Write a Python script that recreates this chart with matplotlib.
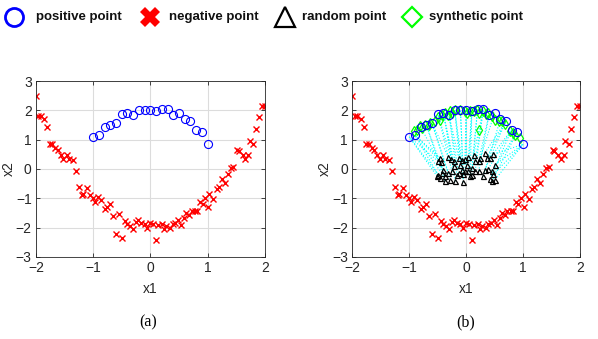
#!/usr/bin/env python3
"""Two-panel scatter: moon-shaped classes, (a) raw data, (b) with random and synthetic points."""

import matplotlib
matplotlib.use("Agg")
import matplotlib.pyplot as plt
from matplotlib.lines import Line2D

# positive class (blue circles)
pos_x = [-1.0, -0.9, -0.8, -0.7, -0.6, -0.5, -0.4, -0.3, -0.2, -0.1, 0.0,
         0.1, 0.2, 0.3, 0.4, 0.5, 0.6, 0.7, 0.8, 0.9, 1.0]
pos_y = [1.10, 1.16, 1.44, 1.50, 1.56, 1.89, 1.91, 1.83, 2.00, 2.00, 2.00,
         1.97, 2.03, 2.03, 1.84, 1.92, 1.69, 1.64, 1.34, 1.27, 0.84]

# negative class (red crosses)
neg_x = [-2.00, -1.96, -1.91, -1.85, -1.80, -1.75, -1.71, -1.66, -1.61, -1.57,
         -1.52, -1.46, -1.42, -1.36, -1.30, -1.25, -1.20, -1.17, -1.11, -1.06,
         -1.01, -0.96, -0.91, -0.87, -0.80, -0.75, -0.71, -0.65, -0.60, -0.55,
         -0.50, -0.45, -0.40, -0.35, -0.30, -0.25, -0.21, -0.16, -0.10, -0.06,
         0.00, 0.05, 0.10, 0.14, 0.20, 0.24, 0.28, 0.34, 0.39, 0.43,
         0.49, 0.54, 0.59, 0.63, 0.68, 0.72, 0.78, 0.82, 0.87, 0.91,
         0.96, 1.01, 1.03, 1.10, 1.16, 1.20, 1.25, 1.30, 1.35, 1.41,
         1.45, 1.52, 1.55, 1.61, 1.66, 1.71, 1.74, 1.80, 1.84, 1.89,
         1.95, 2.00]
neg_y = [2.49, 1.80, 1.80, 1.69, 1.44, 0.86, 0.86, 0.70, 0.66, 0.47,
         0.34, 0.47, 0.35, 0.30, -0.07, -0.61, -0.90, -0.84, -0.65, -0.90,
         -0.99, -1.13, -0.95, -1.07, -1.35, -1.30, -1.18, -1.61, -2.23, -1.52,
         -2.35, -1.77, -1.86, -1.95, -2.03, -1.81, -1.73, -1.84, -1.89, -2.00,
         -1.84, -1.86, -2.43, -1.92, -1.86, -2.03, -1.95, -2.00, -1.89, -1.84,
         -1.73, -1.91, -1.66, -1.50, -1.58, -1.43, -1.43, -1.43, -1.13, -1.18,
         -0.98, -1.30, -0.86, -1.01, -0.67, -0.61, -0.33, -0.48, -0.16, 0.02,
         0.07, 0.64, 0.61, 0.47, 0.34, 0.47, 0.95, 0.86, 1.38, 1.77,
         2.14, 2.14]

# random points (black triangles) and the positive point each one is joined to
rnd_x = [-0.46, -0.49, -0.44, -0.31, -0.26, -0.22, -0.13, -0.08, -0.02, 0.04,
         0.13, 0.16, 0.22, 0.25, 0.33, 0.36, 0.42, 0.48, 0.51, 0.33,
         0.39, 0.45, 0.48, 0.42, 0.30, 0.22, 0.10, 0.10, 0.04, -0.02,
         -0.08, -0.11, 0.01, -0.22, -0.25, -0.31, -0.40, -0.43, -0.49, -0.51,
         -0.46, -0.37, -0.28, -0.19, -0.05, 0.07, 0.51, 0.45, -0.37, -0.16,
         0.16, -0.05, -0.13]
rnd_y = [0.38, 0.26, 0.24, 0.40, 0.35, 0.28, 0.37, 0.32, 0.35, 0.40,
         0.47, 0.26, 0.28, 0.38, 0.55, 0.38, 0.38, 0.51, 0.15, -0.02,
         0.01, -0.08, -0.17, -0.33, -0.25, -0.08, -0.19, 0.03, -0.08, -0.06,
         -0.02, 0.15, 0.15, 0.09, -0.08, -0.14, -0.02, -0.14, -0.19, -0.25,
         -0.31, -0.42, -0.36, -0.42, -0.45, -0.25, -0.36, -0.42, -0.25, -0.22,
         -0.06, -0.17, -0.14]
rnd_target = [1, 0, 1, 4, 5, 6, 7, 8, 10, 11,
              13, 13, 14, 15, 17, 17, 18, 20, 20, 17,
              18, 19, 20, 18, 16, 14, 12, 12, 11, 10,
              8, 8, 10, 6, 5, 4, 2, 1, 0, 0,
              1, 3, 4, 6, 9, 11, 20, 19, 3, 7,
              13, 9, 7]

# synthetic points (green diamonds)
syn_x = [-0.92, -0.87, -0.81, -0.72, -0.63, -0.54, -0.49, -0.43, -0.37, -0.28,
         -0.19, -0.10, -0.02, 0.07, -0.46, -0.31, 0.13, 0.22, 0.30, 0.39,
         0.45, 0.51, 0.57, 0.23, 0.77, 0.86, 0.95, 0.63, 0.19, -0.78,
         -0.66, -0.24, 0.02, 0.35, 0.68, 0.82]
syn_y = [1.28, 1.34, 1.45, 1.51, 1.57, 1.62, 1.79, 1.85, 1.91, 1.97,
         2.02, 2.02, 1.99, 1.99, 1.68, 1.85, 1.97, 1.91, 1.97, 1.91,
         1.80, 1.68, 1.62, 1.34, 1.28, 1.17, 1.06, 1.62, 2.02, 1.40,
         1.50, 1.90, 1.92, 1.86, 1.55, 1.22]

ticks_x = [-2, -1, 0, 1, 2]
ticks_y = [-3, -2, -1, 0, 1, 2, 3]
panel_labels = ["(a)", "(b)"]
legend_labels = ["positive point", "negative point", "random point", "synthetic point"]

AX_COLOR = "#262626"
BLUE = "#0000ff"
RED = "#ff0000"
GREEN = "#00ff00"
CYAN = "#00ffff"

plt.rcParams["font.family"] = ["Liberation Sans", "DejaVu Sans"]

fig = plt.figure(figsize=(5.98, 3.39), dpi=100)
ax_a = fig.add_axes([0.060, 0.242, 0.383, 0.519])
ax_b = fig.add_axes([0.589, 0.242, 0.381, 0.519])


def style_axes(ax):
    ax.set_xlim(-2, 2)
    ax.set_ylim(-3, 3)
    ax.set_xticks(ticks_x)
    ax.set_yticks(ticks_y)
    ax.grid(True, color="#dcdcdc", linewidth=0.8)
    ax.set_axisbelow(True)
    ax.tick_params(direction="in", length=3, width=0.6, colors=AX_COLOR,
                   labelsize=10, pad=3, top=True, right=True,
                   labeltop=False, labelright=False)
    for sp in ax.spines.values():
        sp.set_color(AX_COLOR)
        sp.set_linewidth(0.6)
    ax.set_xlabel("x1", fontsize=10, color=AX_COLOR, labelpad=5)
    ax.set_ylabel("x2", fontsize=10, color=AX_COLOR, labelpad=0)


# (a) raw data
ax_a.plot(neg_x, neg_y, "x", color=RED, markersize=4.8, mew=1.0)
ax_a.plot(pos_x, pos_y, "o", color=BLUE, mfc="none", markersize=5.8, mew=0.8)
style_axes(ax_a)

# (b) with random points, connections and synthetic points
ax_b.plot(neg_x, neg_y, "x", color=RED, markersize=4.8, mew=1.0)
for rx, ry, t in zip(rnd_x, rnd_y, rnd_target):
    ax_b.plot([rx, pos_x[t]], [ry, pos_y[t]], ":", color=CYAN, linewidth=0.8)
ax_b.plot(rnd_x, rnd_y, "^", color="k", mfc="none", markersize=3.6, mew=0.9)
ax_b.plot(syn_x, syn_y, "d", color=GREEN, mfc="none", markersize=5, mew=0.9)
ax_b.plot(pos_x, pos_y, "o", color=BLUE, mfc="none", markersize=5.8, mew=0.8)
style_axes(ax_b)

# panel captions
fig.text(0.248, 0.048, panel_labels[0], ha="center", va="center",
         fontsize=11.5, family=["Liberation Serif", "DejaVu Serif"])
fig.text(0.778, 0.048, panel_labels[1], ha="center", va="center",
         fontsize=11.5, family=["Liberation Serif", "DejaVu Serif"])

# legend across the top
leg_y = 1 - 17 / 339
marker_x = [14, 150, 285, 412]
text_x = [36, 169, 302, 429]
marker_kw = [
    dict(marker="o", color=BLUE, mfc="none", markersize=13, mew=2.0),
    dict(marker="X", color=RED, markersize=14, mew=0),
    dict(marker="^", color="k", mfc="none", markersize=14, mew=1.6),
    dict(marker="D", color=GREEN, mfc="none", markersize=10, mew=1.6),
]
for mx, tx, kw, lab in zip(marker_x, text_x, marker_kw, legend_labels):
    fig.add_artist(Line2D([mx / 598], [leg_y], transform=fig.transFigure,
                          linestyle="none", **kw))
    fig.text(tx / 598, leg_y, lab, ha="left", va="center", fontsize=9.5,
             fontweight="bold", color="#111111")

fig.savefig("out.png", dpi=100)
